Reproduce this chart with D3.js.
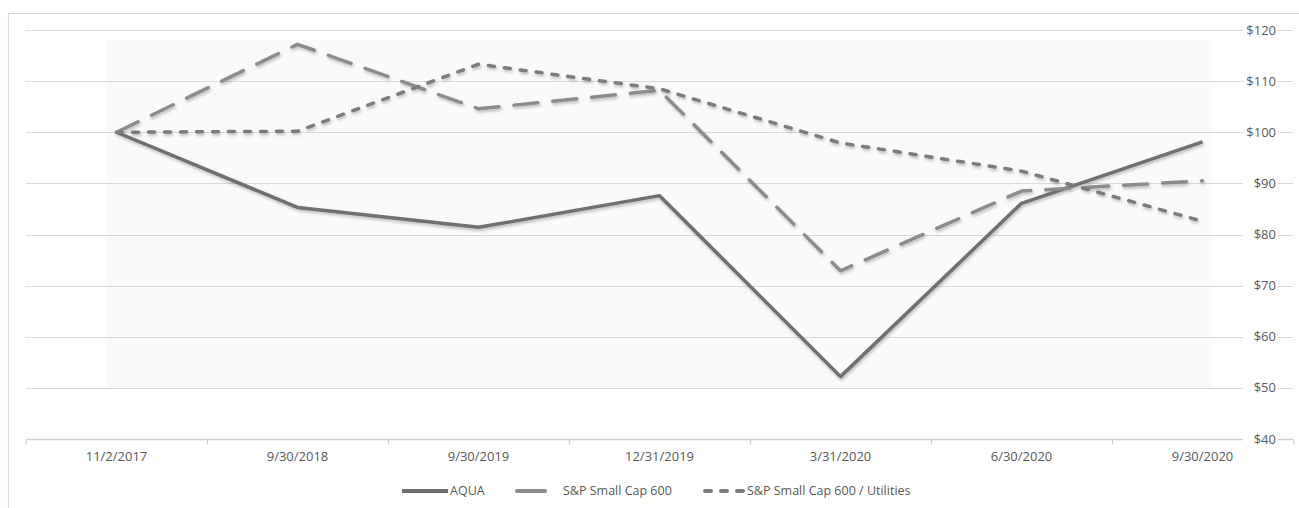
<!DOCTYPE html>
<html>
<head>
<meta charset="utf-8">
<script src="https://cdn.jsdelivr.net/npm/d3@7"></script>
<style>
  body { margin: 0; background: #fff; }
  text { font-family: "Open Sans", "Noto Sans", sans-serif; fill: #595959; }
</style>
</head>
<body>
<svg></svg>
<script>
// data
const dates = ["11/2/2017", "9/30/2018", "9/30/2019", "12/31/2019", "3/31/2020", "6/30/2020", "9/30/2020"];
const aqua = [100, 85.3, 81.4, 87.6, 52.2, 86.1, 98.1];
const smallCap = [100, 117.2, 104.6, 108.2, 72.9, 88.5, 90.5];
const utilities = [100, 100.2, 113.3, 108.5, 97.9, 92.4, 82.6];
const yTicks = [40, 50, 60, 70, 80, 90, 100, 110, 120];

let width = 1299;
let height = 508;
let svg = d3.select('svg');

let xScale;
let yScale;

const series = [
    { name: "AQUA", values: aqua, color: "#6f6f6f", dash: null },
    { name: "S&P Small Cap 600", values: smallCap, color: "#8c8c8c", dash: "24,15" },
    { name: "S&P Small Cap 600 / Utilities", values: utilities, color: "#7c7c7c", dash: "6,10" }
];

const drawCanvas = () => {
    svg.attr('width', width)
       .attr('height', height);

    // outer chart border (cropped at right and bottom)
    svg.append('path')
       .attr('d', "M8.5,508 L8.5,13.5 L1299,13.5")
       .attr('fill', 'none')
       .attr('stroke', '#d9d9d9')
       .attr('stroke-width', 1.2);

    let defs = svg.append('defs');
    let f = defs.append('filter')
                .attr('id', 'shadow')
                .attr('x', '-5%').attr('y', '-5%')
                .attr('width', '110%').attr('height', '120%');
    f.append('feDropShadow')
     .attr('dx', 1).attr('dy', 2)
     .attr('stdDeviation', 1.4)
     .attr('flood-color', '#000')
     .attr('flood-opacity', 0.25);
};

const generateScales = () => {
    xScale = d3.scaleBand()
               .domain(dates)
               .range([26, 1293]);

    yScale = d3.scaleLinear()
               .domain([40, 120])
               .range([439, 30]);
};

const drawGrid = () => {
    // very light plot background
    svg.append('rect')
       .attr('x', 107)
       .attr('y', 40)
       .attr('width', 1212 - 107)
       .attr('height', 389 - 40)
       .attr('fill', '#fafafa');

    svg.append('g')
       .selectAll('line')
       .data(yTicks.filter(d => d > 40))
       .enter()
       .append('line')
       .attr('x1', 26)
       .attr('x2', 1293)
       .attr('y1', d => Math.round(yScale(d)) + 0.5)
       .attr('y2', d => Math.round(yScale(d)) + 0.5)
       .attr('stroke', '#d9d9d9')
       .attr('stroke-width', 1.2);
};

const drawAxes = () => {
    let xAxis = d3.axisBottom(xScale).tickSize(0).tickPadding(12);
    let gx = svg.append('g')
                .attr('id', 'x-axis')
                .attr('transform', "translate(0, " + (Math.round(yScale(40)) + 0.5) + ")")
                .call(xAxis);
    gx.select('.domain')
      .attr('d', "M26,0H1293")
      .attr('stroke', '#d0d0d0')
      .attr('stroke-width', 1.5);
    gx.selectAll('text')
      .attr('font-size', '13px')
      .attr('dy', '0.71em');

    // category boundary ticks
    let bounds = dates.map(d => xScale(d)).concat([xScale.range()[1]]);
    gx.selectAll('.bound')
      .data(bounds)
      .enter()
      .append('line')
      .attr('class', 'bound')
      .attr('x1', d => Math.round(d) + 0.5)
      .attr('x2', d => Math.round(d) + 0.5)
      .attr('y1', 0)
      .attr('y2', 5)
      .attr('stroke', '#d0d0d0')
      .attr('stroke-width', 1.2);

    // y labels on the right, knocked out over the gridlines
    let gy = svg.append('g').attr('id', 'y-axis');
    let lab = gy.selectAll('g')
                .data(yTicks)
                .enter()
                .append('g')
                .attr('transform', d => "translate(1276, " + yScale(d) + ")");
    lab.append('rect')
       .attr('x', -33)
       .attr('y', -8)
       .attr('width', 35)
       .attr('height', 16)
       .attr('fill', '#fff');
    lab.append('text')
       .attr('text-anchor', 'end')
       .attr('dy', '0.35em')
       .attr('font-size', '13px')
       .text(d => "$" + d);
};

const drawLines = () => {
    let line = d3.line()
                 .x((d, i) => xScale(dates[i]) + xScale.bandwidth() / 2)
                 .y(d => yScale(d));

    svg.append('g')
       .attr('filter', 'url(#shadow)')
       .selectAll('path')
       .data(series)
       .enter()
       .append('path')
       .attr('d', d => line(d.values))
       .attr('fill', 'none')
       .attr('stroke', d => d.color)
       .attr('stroke-width', 3.5)
       .attr('stroke-linejoin', 'round')
       .attr('stroke-linecap', d => d.dash ? 'round' : 'butt')
       .attr('stroke-dasharray', d => d.dash);
};

const drawLegend = () => {
    let ly = 491;
    let items = [
        { s: series[0], x1: 402, x2: 448, tx: 450 },
        { s: series[1], x1: 517, x2: 545, tx: 563 },
        { s: series[2], x1: 705, x2: 745, tx: 747 }
    ];
    let g = svg.append('g').attr('id', 'legend');
    let it = g.selectAll('g')
              .data(items)
              .enter()
              .append('g');
    it.append('line')
      .attr('x1', d => d.x1)
      .attr('x2', d => d.x2)
      .attr('y1', ly)
      .attr('y2', ly)
      .attr('stroke', d => d.s.color)
      .attr('stroke-width', 4)
      .attr('stroke-linecap', d => d.s.dash ? 'round' : 'butt')
      .attr('stroke-dasharray', (d, i) => i === 2 ? "6,10" : null);
    it.append('text')
      .attr('x', d => d.tx)
      .attr('y', ly)
      .attr('dy', '0.35em')
      .attr('font-size', '12.5px')
      .text(d => d.s.name);
};

drawCanvas();
generateScales();
drawGrid();
drawAxes();
drawLines();
drawLegend();
</script>
</body>
</html>
